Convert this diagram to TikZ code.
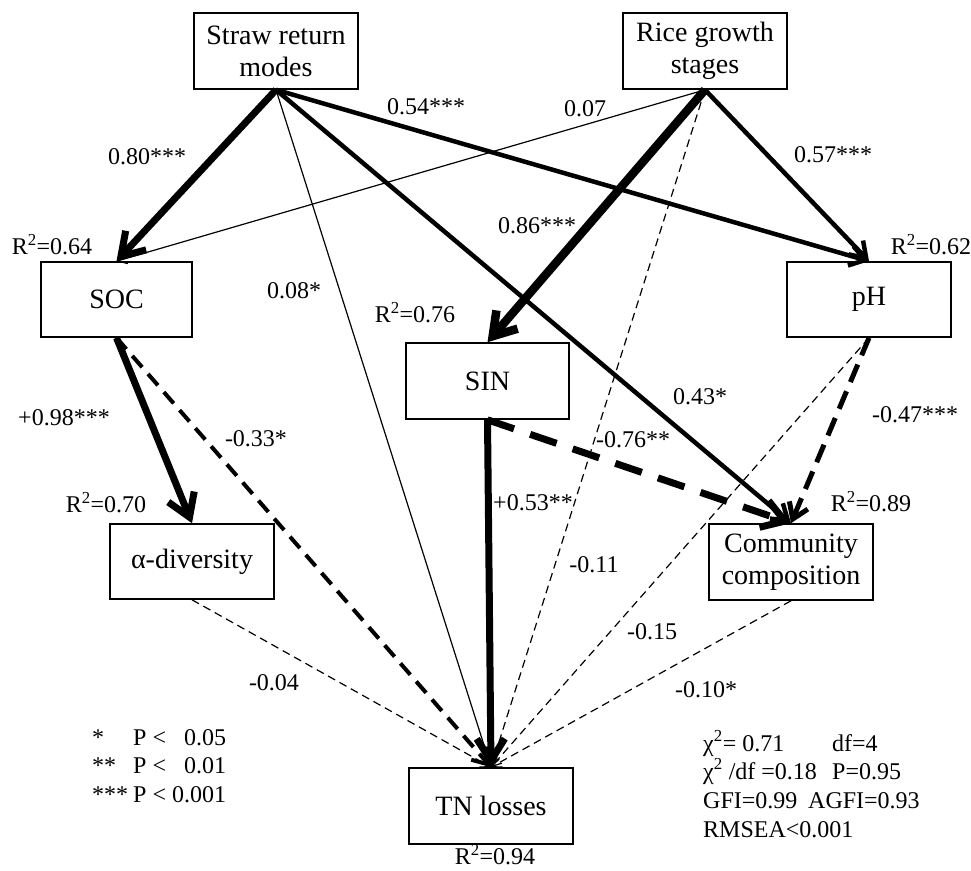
\documentclass[tikz,border=0pt]{standalone}
\usepackage{fontspec}
\setmainfont{Liberation Serif}
\usetikzlibrary{arrows.meta}
\begin{document}
\begin{tikzpicture}[x=1pt,y=-1pt,
  box/.style={draw, line width=1.6pt, minimum width=164pt, minimum height=76pt, inner sep=0pt, align=center, font=\fontsize{28}{32}\selectfont},
  lab/.style={font=\fontsize{24}{28}\selectfont, inner sep=0pt},
  labw/.style={font=\fontsize{24}{28}\selectfont, inner sep=0pt, anchor=base west},
  wT/.style={line width=1.2pt},
  wM/.style={line width=4.5pt},
  wL/.style={line width=7pt},
  wXL/.style={line width=8.5pt},
  dT/.style={dash pattern=on 8pt off 5pt},
  dA/.style={dash pattern=on 15pt off 9pt},
  dB/.style={dash pattern=on 19pt off 10pt},
  dC/.style={dash pattern=on 28pt off 17pt},
  aS/.style={-{Straight Barb[length=9pt,width=11pt]}},
  aM/.style={-{Straight Barb[length=15pt,width=20pt]}},
  aL/.style={-{Straight Barb[length=22pt,width=28pt]}}
]
\useasboundingbox (0,0) rectangle (971,870);

% nodes
\node[box] (straw) at (276,51) {Straw return\\modes};
\node[box] (rice) at (705,51) {Rice growth\\stages};
\node[box, minimum width=151pt, minimum height=75pt] (soc) at (116.5,299.5) {SOC};
\node[box, minimum width=163pt] (sin) at (487.5,381) {SIN};
\node[box, minimum height=75pt] (ph) at (869,299.5) {pH};
\node[box] (comm) at (791,562) {Community\\composition};
\node[box, minimum height=75pt] (alpha) at (192,561.5) {α-diversity};
\node[box] (tn) at (491,806) {TN losses};

% connectors
\draw[wL, aL] (straw.south) -- (soc.north);
\draw[wT, aS] (straw.south) -- (tn.north);
\draw[wM, aM] (straw.south) -- (comm.north);
\draw[wM, aM] (straw.south) -- (ph.north);
\draw[wT, aS] (rice.south) -- (soc.north);
\draw[wXL, aL] (rice.south) -- (sin.north);
\draw[wM, aM] (rice.south) -- (ph.north);
\draw[wT, dT, aS] (rice.south) -- (tn.north);
\draw[wL, aL] (soc.south) -- (alpha.north);
\draw[line width=4pt, dA, aM] (soc.south) -- (tn.north);
\draw[wL, aL] (sin.south) -- (tn.north);
\draw[wL, dC, aL] (sin.south) -- (comm.north);
\draw[line width=5pt, dB, aM] (ph.south) -- (comm.north);
\draw[wT, dT, aS] (ph.south) -- (tn.north);
\draw[wT, dT, aS] (alpha.south) -- (tn.north);
\draw[wT, dT, aS] (comm.south) -- (tn.north);

% path labels
\node[lab] (l80) at (147,157) {0.80***};
\node[lab] (l54) at (426,107) {0.54***};
\node[lab] (l07) at (585,109) {0.07};
\node[lab] (l57) at (833,155) {0.57***};
\node[lab] (l86) at (537,226) {0.86***};
\node[lab] (l08) at (294,291) {0.08*};
\node[lab] (l43) at (700,397) {0.43*};
\node[lab] (l76) at (633,440) {-0.76**};
\node[lab] (l47) at (915,415) {-0.47***};
\node[lab] (l53) at (533,503) {+0.53**};
\node[lab] (l98) at (64,418) {+0.98***};
\node[lab] (l33) at (256,439) {-0.33*};
\node[lab] (l11) at (594,565) {-0.11};
\node[lab] (l15) at (652,632) {-0.15};
\node[lab] (l10) at (706,690) {-0.10*};
\node[lab] (l04) at (274,683) {-0.04};

% R2 labels
\node[lab] (r64) at (52,245) {R\textsuperscript{2}=0.64};
\node[lab] (r76) at (415,313) {R\textsuperscript{2}=0.76};
\node[lab] (r62) at (931,245) {R\textsuperscript{2}=0.62};
\node[lab] (r89) at (871,502) {R\textsuperscript{2}=0.89};
\node[lab] (r70) at (106,503) {R\textsuperscript{2}=0.70};
\node[lab] (r94) at (495,855) {R\textsuperscript{2}=0.94};

% legend
\node[labw] (s1) at (92,745) {*};
\node[labw] (p1) at (133,745) {P <};
\node[labw] (v1) at (184,745) {0.05};
\node[labw] (s2) at (92,773) {**};
\node[labw] (p2) at (133,773) {P <};
\node[labw] (v2) at (184,773) {0.01};
\node[labw] (s3) at (92,802) {***};
\node[labw] (p3) at (133,802) {P < 0.001};

% fit statistics
\node[labw] (f1) at (703,751) {χ\textsuperscript{2}= 0.71};
\node[labw] (f2) at (832,751) {df=4};
\node[labw] (f3) at (703,779) {χ\textsuperscript{2} /df =0.18};
\node[labw] (f4) at (832,779) {P=0.95};
\node[labw] (f5) at (703,808) {GFI=0.99};
\node[labw] (f6) at (808,808) {AGFI=0.93};
\node[labw] (f7) at (703,837) {RMSEA<0.001};
\end{tikzpicture}
\end{document}
